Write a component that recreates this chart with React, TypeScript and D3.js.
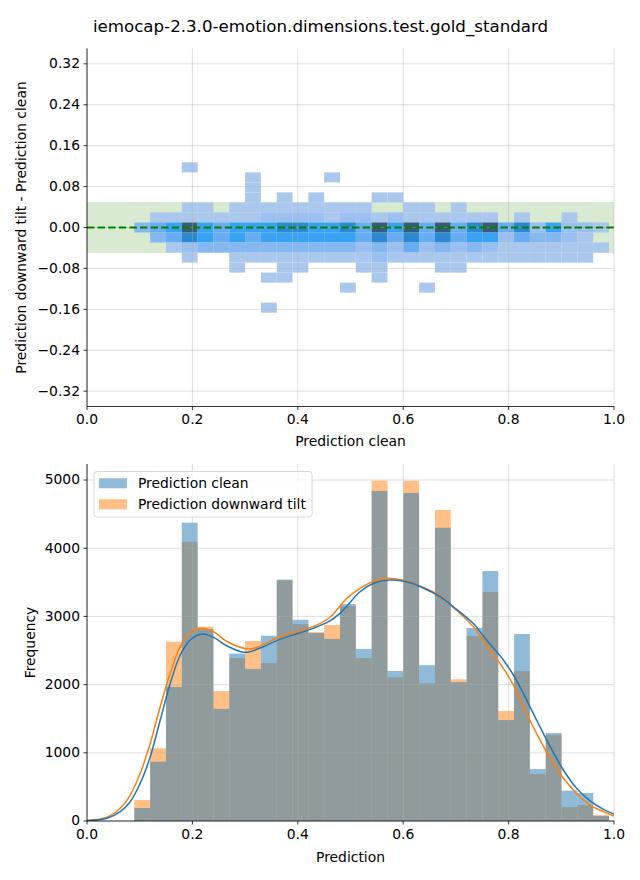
import React from "react";
import * as d3 from "d3";

const TITLE = "iemocap-2.3.0-emotion.dimensions.test.gold_standard";

// histogram bins (shared by both plots)
const binLo = 0.0898;
const binHi = 0.9905;
const binCount = 30;

const cleanCounts = [190, 870, 1965, 4374, 2815, 1645, 2455, 2230, 2717, 3540, 2950, 2757, 2670, 3182, 2522, 4840, 2200, 4810, 2285, 4300, 2035, 2830, 3666, 1480, 2742, 762, 1290, 445, 410, 73];
const tiltCounts = [308, 1066, 2629, 4095, 2850, 1906, 2390, 2640, 2317, 3530, 2888, 2770, 2874, 3152, 2390, 4990, 2107, 4990, 2018, 4560, 2078, 2713, 3358, 1613, 2199, 689, 1261, 205, 235, 88];

// KDE curves
const kdeXClean = [0, 0.038, 0.063, 0.082, 0.101, 0.12, 0.139, 0.158, 0.177, 0.196, 0.218, 0.24, 0.266, 0.3, 0.33, 0.366, 0.4, 0.429, 0.46, 0.48, 0.493, 0.518, 0.545, 0.575, 0.61, 0.64, 0.67, 0.7, 0.733, 0.758, 0.79, 0.809, 0.828, 0.853, 0.879, 0.904, 0.929, 0.954, 0.98, 1.0];
const kdeClean = [5, 40, 137, 283, 553, 943, 1481, 2019, 2434, 2654, 2742, 2693, 2566, 2473, 2540, 2664, 2750, 2825, 2930, 3045, 3150, 3362, 3490, 3534, 3500, 3410, 3289, 3110, 2895, 2654, 2361, 2141, 1872, 1481, 1090, 748, 479, 298, 171, 100];
const kdeXTilt = [0, 0.038, 0.063, 0.082, 0.101, 0.12, 0.139, 0.158, 0.177, 0.196, 0.216, 0.24, 0.266, 0.309, 0.366, 0.429, 0.46, 0.493, 0.518, 0.545, 0.569, 0.6, 0.64, 0.67, 0.7, 0.733, 0.758, 0.79, 0.809, 0.828, 0.853, 0.879, 0.904, 0.929, 0.954, 0.98, 1.0];
const kdeTilt = [8, 54, 186, 381, 699, 1139, 1676, 2166, 2556, 2761, 2825, 2776, 2629, 2522, 2703, 2850, 2980, 3265, 3412, 3520, 3558, 3530, 3420, 3300, 3100, 2850, 2580, 2239, 1994, 1676, 1285, 919, 626, 406, 235, 137, 73];

// 2D histogram (difference vs clean): rows = difference bin index, intensity level per column
const heatRowIdx = [6, 5, 4, 3, 2, 1, 0, -1, -2, -3, -4, -5, -6, -7, -8];
const heatRowStep = 0.0196;
const heatLevels = [
  "000100000000000000000000000000",
  "000000010000100000000000000000",
  "000000010000000000000000000000",
  "000000010101000110000000000000",
  "000110111111111001101000000000",
  "011111112222122121111110100100",
  "345754555665564757474674625221",
  "034654545555554646464552433210",
  "001233333333332324232321111111",
  "000100111111111211111111111110",
  "000000100110001100011000000000",
  "000000001100000100000000000000",
  "000000000000010000100000000000",
  "000000000000000000000000000000",
  "000000001000000000000000000000",
];
const heatColors = ["#aac7ee", "#9bbff0", "#85b7f1", "#68adf4", "#38a2f5", "#2b89d2", "#3b5b7b"];

const xTicks = [0, 0.2, 0.4, 0.6, 0.8, 1.0];
const topYTicks = [-0.32, -0.24, -0.16, -0.08, 0, 0.08, 0.16, 0.24, 0.32];
const botYTicks = [0, 1000, 2000, 3000, 4000, 5000];
const bandHalf = 0.05;
const legendLabels = ["Prediction clean", "Prediction downward tilt"];

const FONT = "DejaVu Sans, sans-serif";
const BLUE = "#1f77b4";
const ORANGE = "#ff7f0e";

export default function App() {
  const W = 640, H = 880;
  const L = 87, R = 614;
  const x = d3.scaleLinear().domain([0, 1]).range([L, R]);
  const yT = d3.scaleLinear().domain([-0.35, 0.35]).range([406.5, 48.5]);
  const yB = d3.scaleLinear().domain([0, 5235]).range([821, 464]);
  const binW = (binHi - binLo) / binCount;
  const edges = d3.range(binCount).map((i) => binLo + i * binW);
  const fmtTop = (v: number) => d3.format(".2f")(v).replace("-", "\u2212");
  const colorOf = d3.scaleOrdinal<number, string>().domain([1, 2, 3, 4, 5, 6, 7]).range(heatColors);

  const lineClean = d3.line<number>().x((_, i) => x(kdeXClean[i])).y((d) => yB(d)).curve(d3.curveCatmullRom.alpha(0.5));
  const lineTilt = d3.line<number>().x((_, i) => x(kdeXTilt[i])).y((d) => yB(d)).curve(d3.curveCatmullRom.alpha(0.5));

  const tTop = yT.range()[1], tBot = yT.range()[0];
  const bTop = yB.range()[1], bBot = yB.range()[0];
  const gridStyle = { stroke: "#b0b0b0", strokeOpacity: 0.5, strokeWidth: 0.8 };

  return (
    <svg width={W} height={H} style={{ position: "absolute", left: 0, top: 0, background: "#fff" }} fontFamily={FONT}>
      <rect x={0} y={0} width={W} height={H} fill="#fff" />
      <text x={320.5} y={32} textAnchor="middle" fontSize={16.67} fill="#000">{TITLE}</text>

      {/* ---------- TOP PLOT ---------- */}
      <defs>
        <clipPath id="clipTop"><rect x={L} y={tTop} width={R - L} height={tBot - tTop} /></clipPath>
        <clipPath id="clipBot"><rect x={L} y={bTop} width={R - L} height={bBot - bTop} /></clipPath>
      </defs>
      <g clipPath="url(#clipTop)">
        <rect x={L} y={yT(bandHalf)} width={R - L} height={yT(-bandHalf) - yT(bandHalf)} fill="#d9ead3" />
        {heatLevels.map((row, ri) =>
          row.split("").map(Number).map((lv, ci) =>
            lv > 0 ? (
              <rect key={`h${ri}-${ci}`} x={x(edges[ci])} width={x(edges[ci] + binW) - x(edges[ci])}
                y={yT(heatRowIdx[ri] * heatRowStep + heatRowStep / 2)}
                height={yT(heatRowIdx[ri] * heatRowStep - heatRowStep / 2) - yT(heatRowIdx[ri] * heatRowStep + heatRowStep / 2)}
                fill={colorOf(lv)} />
            ) : null
          )
        )}
      </g>
      {xTicks.map((t) => <line key={`gxt${t}`} x1={x(t)} x2={x(t)} y1={tTop} y2={tBot} {...gridStyle} />)}
      {topYTicks.map((t) => <line key={`gyt${t}`} x1={L} x2={R} y1={yT(t)} y2={yT(t)} {...gridStyle} />)}
      <line x1={L} x2={R} y1={yT(0)} y2={yT(0)} stroke="#008000" strokeWidth={2} strokeDasharray="7.4,3.2" />
      <line x1={L} x2={L} y1={tTop} y2={tBot} stroke="#000" strokeWidth={0.8} />
      <line x1={L} x2={R} y1={tBot} y2={tBot} stroke="#000" strokeWidth={0.8} />
      {xTicks.map((t) => (
        <g key={`xtt${t}`}>
          <line x1={x(t)} x2={x(t)} y1={tBot} y2={tBot + 3.5} stroke="#000" strokeWidth={0.8} />
          <text x={x(t)} y={tBot + 7} dy="0.76em" textAnchor="middle" fontSize={13.89}>{t.toFixed(1)}</text>
        </g>
      ))}
      {topYTicks.map((t) => (
        <g key={`ytt${t}`}>
          <line x1={L - 3.5} x2={L} y1={yT(t)} y2={yT(t)} stroke="#000" strokeWidth={0.8} />
          <text x={L - 7} y={yT(t)} dy="0.32em" textAnchor="end" fontSize={13.89}>{fmtTop(t)}</text>
        </g>
      ))}
      <text x={(L + R) / 2} y={441} dy="0.35em" textAnchor="middle" fontSize={13.89}>Prediction clean</text>
      <text transform={`translate(21,${(tTop + tBot) / 2}) rotate(-90)`} dy="0.35em" textAnchor="middle" fontSize={13.89}>
        Prediction downward tilt - Prediction clean
      </text>

      {/* ---------- BOTTOM PLOT ---------- */}
      <g clipPath="url(#clipBot)">
        {tiltCounts.map((c, i) => (
          <rect key={`bt${i}`} x={x(edges[i])} width={x(edges[i] + binW) - x(edges[i])} y={yB(c)} height={yB(0) - yB(c)} fill={ORANGE} fillOpacity={0.5} />
        ))}
        {cleanCounts.map((c, i) => (
          <rect key={`bc${i}`} x={x(edges[i])} width={x(edges[i] + binW) - x(edges[i])} y={yB(c)} height={yB(0) - yB(c)} fill={BLUE} fillOpacity={0.5} />
        ))}
      </g>
      {xTicks.map((t) => <line key={`gxb${t}`} x1={x(t)} x2={x(t)} y1={bTop} y2={bBot} {...gridStyle} />)}
      {botYTicks.map((t) => <line key={`gyb${t}`} x1={L} x2={R} y1={yB(t)} y2={yB(t)} {...gridStyle} />)}
      <g clipPath="url(#clipBot)">
        <path d={lineTilt(kdeTilt) || ""} fill="none" stroke={ORANGE} strokeWidth={1.5} />
        <path d={lineClean(kdeClean) || ""} fill="none" stroke={BLUE} strokeWidth={1.5} />
      </g>
      <line x1={L} x2={L} y1={bTop} y2={bBot} stroke="#000" strokeWidth={0.8} />
      <line x1={L} x2={R} y1={bBot} y2={bBot} stroke="#000" strokeWidth={0.8} />
      {xTicks.map((t) => (
        <g key={`xtb${t}`}>
          <line x1={x(t)} x2={x(t)} y1={bBot} y2={bBot + 3.5} stroke="#000" strokeWidth={0.8} />
          <text x={x(t)} y={bBot + 7} dy="0.76em" textAnchor="middle" fontSize={13.89}>{t.toFixed(1)}</text>
        </g>
      ))}
      {botYTicks.map((t) => (
        <g key={`ytb${t}`}>
          <line x1={L - 3.5} x2={L} y1={yB(t)} y2={yB(t)} stroke="#000" strokeWidth={0.8} />
          <text x={L - 7} y={yB(t)} dy="0.32em" textAnchor="end" fontSize={13.89}>{t}</text>
        </g>
      ))}
      <text x={(L + R) / 2} y={857} dy="0.35em" textAnchor="middle" fontSize={13.89}>Prediction</text>
      <text transform={`translate(30,${(bTop + bBot) / 2}) rotate(-90)`} dy="0.35em" textAnchor="middle" fontSize={13.89}>Frequency</text>

      {/* legend */}
      <rect x={94} y={471.5} width={218} height={45.5} rx={3} fill="#fff" fillOpacity={0.8} stroke="#cccccc" strokeWidth={0.8} />
      {legendLabels.map((lab, i) => (
        <g key={lab}>
          <rect x={99} y={478.3 + i * 21} width={28} height={10} fill={i === 0 ? BLUE : ORANGE} fillOpacity={0.5} />
          <text x={138} y={483.3 + i * 21} dy="0.35em" fontSize={13.89} fill="#000">{lab}</text>
        </g>
      ))}
    </svg>
  );
}
